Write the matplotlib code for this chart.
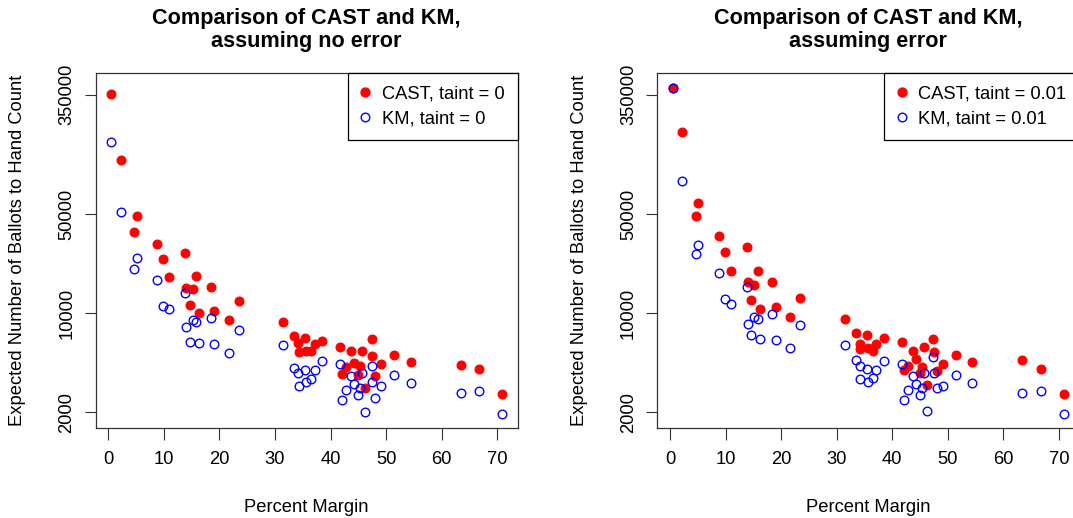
import matplotlib
matplotlib.use("Agg")
import matplotlib.pyplot as plt
from matplotlib.lines import Line2D

plt.rcParams['font.family'] = ['Liberation Sans', 'DejaVu Sans']

# Percent margin of each contest (shared by all series)
margin = [0.49, 2.23, 4.62, 5.11, 8.73, 9.84, 11.01, 13.77, 14.0, 14.65,
          15.19, 15.75, 16.27, 18.43, 19.02, 21.67, 23.43, 31.49, 33.45, 34.14,
          34.23, 35.45, 35.54, 36.53, 37.11, 38.53, 41.70, 42.11, 42.85, 43.64,
          44.27, 45.02, 45.29, 45.74, 46.21, 47.40, 47.54, 47.99, 49.04, 51.43,
          54.42, 63.42, 66.71, 70.90]

# Expected number of ballots, no error (taint = 0)
cast_noerr = [353000, 121000, 37300, 48900, 30900, 24300, 17900, 26800, 15100, 11500,
              14800, 18300, 10100, 15300, 10400, 8970, 12300, 8630, 6950, 6140,
              5330, 6730, 5440, 5400, 6100, 6320, 5810, 3720, 4200, 5390,
              4430, 3660, 4260, 5450, 2950, 6620, 5010, 3600, 4380, 5070,
              4530, 4310, 4020, 2680]
km_noerr = [161000, 51700, 20500, 24500, 17100, 11300, 10800, 13800, 8000, 6300,
            8970, 8630, 6140, 9220, 6070, 5210, 7580, 6000, 4130, 3800,
            3050, 3970, 3270, 3450, 3950, 4600, 4360, 2430, 2870, 3600,
            3160, 2630, 2950, 3800, 2020, 4220, 3270, 2530, 3050, 3660,
            3200, 2750, 2840, 1950]

# Expected number of ballots, assuming error (taint = 0.01)
cast_err = [389000, 190000, 48900, 59900, 35300, 27000, 20000, 29300, 16500, 12400,
            15800, 19900, 10700, 16700, 11000, 9460, 12800, 9110, 7290, 6070,
            5570, 6990, 5710, 5410, 6050, 6730, 6300, 3970, 4240, 5390,
            4750, 3770, 4200, 5810, 3110, 6580, 5360, 3930, 4360, 5070,
            4510, 4680, 4020, 2680]
km_err = [389000, 86100, 26200, 30500, 19400, 12600, 11600, 15400, 8400, 7030,
          9370, 9110, 6550, 9840, 6500, 5690, 8270, 6000, 4660, 4240,
          3420, 4020, 3270, 3470, 3950, 4630, 4380, 2430, 2870, 3600,
          3160, 2630, 2950, 3770, 2030, 4890, 3790, 2960, 3050, 3650,
          3200, 2750, 2840, 1950]

xticks = [0, 10, 20, 30, 40, 50, 60, 70]
yticks = [2000, 10000, 50000, 350000]
ytick_labels = ["2000", "10000", "50000", "350000"]

titles = ["Comparison of CAST and KM,\nassuming no error",
          "Comparison of CAST and KM,\nassuming error"]
legend_labels = [("CAST, taint = 0", "KM, taint = 0"),
                 ("CAST, taint = 0.01", "KM, taint = 0.01")]
series = [(cast_noerr, km_noerr), (cast_err, km_err)]

W, H = 1073, 518
fig = plt.figure(figsize=(W / 100, H / 100), dpi=100)

ax_w = 422 / W
ax_h = 355 / H
ax_b = (H - 427.7) / H
lefts = [95.7 / W, 657.4 / W]

FS = 13.2

for i in range(2):
    ax = fig.add_axes([lefts[i], ax_b, ax_w, ax_h])
    red, blue = series[i]
    ax.plot(margin, red, linestyle='none', marker='o', markersize=6.4,
            markerfacecolor='#FF0000', markeredgecolor='#FF0000', markeredgewidth=0.8,
            clip_on=False)
    ax.plot(margin, blue, linestyle='none', marker='o', markersize=6.2,
            markerfacecolor='none', markeredgecolor='#0000FF', markeredgewidth=1.0,
            clip_on=False)
    ax.set_yscale('log')
    ax.set_xlim(-2.27, 73.67)
    ax.set_ylim(1554, 501000)
    ax.set_xticks(xticks)
    ax.set_xticklabels([str(t) for t in xticks])
    ax.yaxis.set_minor_locator(matplotlib.ticker.NullLocator())
    ax.set_yticks(yticks)
    ax.set_yticklabels(ytick_labels, rotation=90, va='center')
    ax.tick_params(axis='x', direction='out', length=8.9, width=0.8, pad=8,
                   labelsize=FS, color='#333333')
    ax.tick_params(axis='y', direction='out', length=7.8, width=0.8, pad=7,
                   labelsize=FS, color='#333333')
    for s in ax.spines.values():
        s.set_linewidth(0.9)
        s.set_color('#333333')
    ax.set_title(titles[i], fontsize=15.6, fontweight='bold', pad=18.5, linespacing=1.1)
    ax.set_xlabel('Percent Margin', fontsize=FS, va='center')
    ax.xaxis.set_label_coords(0.5, (427.7 - 507) / 355)
    ax.set_ylabel('Expected Number of Ballots to Hand Count', fontsize=FS, va='center')
    ax.yaxis.set_label_coords((18 - 95.7) / 422, 0.5)

    handles = [Line2D([], [], linestyle='none', marker='o', markersize=6.4,
                      markerfacecolor='#FF0000', markeredgecolor='#FF0000'),
               Line2D([], [], linestyle='none', marker='o', markersize=6.2,
                      markerfacecolor='none', markeredgecolor='#0000FF',
                      markeredgewidth=1.0)]
    leg = ax.legend(handles, legend_labels[i], loc='upper right', borderaxespad=0,
                    fontsize=FS, fancybox=False, framealpha=1, edgecolor='black',
                    handlelength=0.5, handletextpad=0.65, borderpad=0.72,
                    labelspacing=0.4)
    leg.get_frame().set_linewidth(0.9)

fig.savefig('out.png', dpi=100)
